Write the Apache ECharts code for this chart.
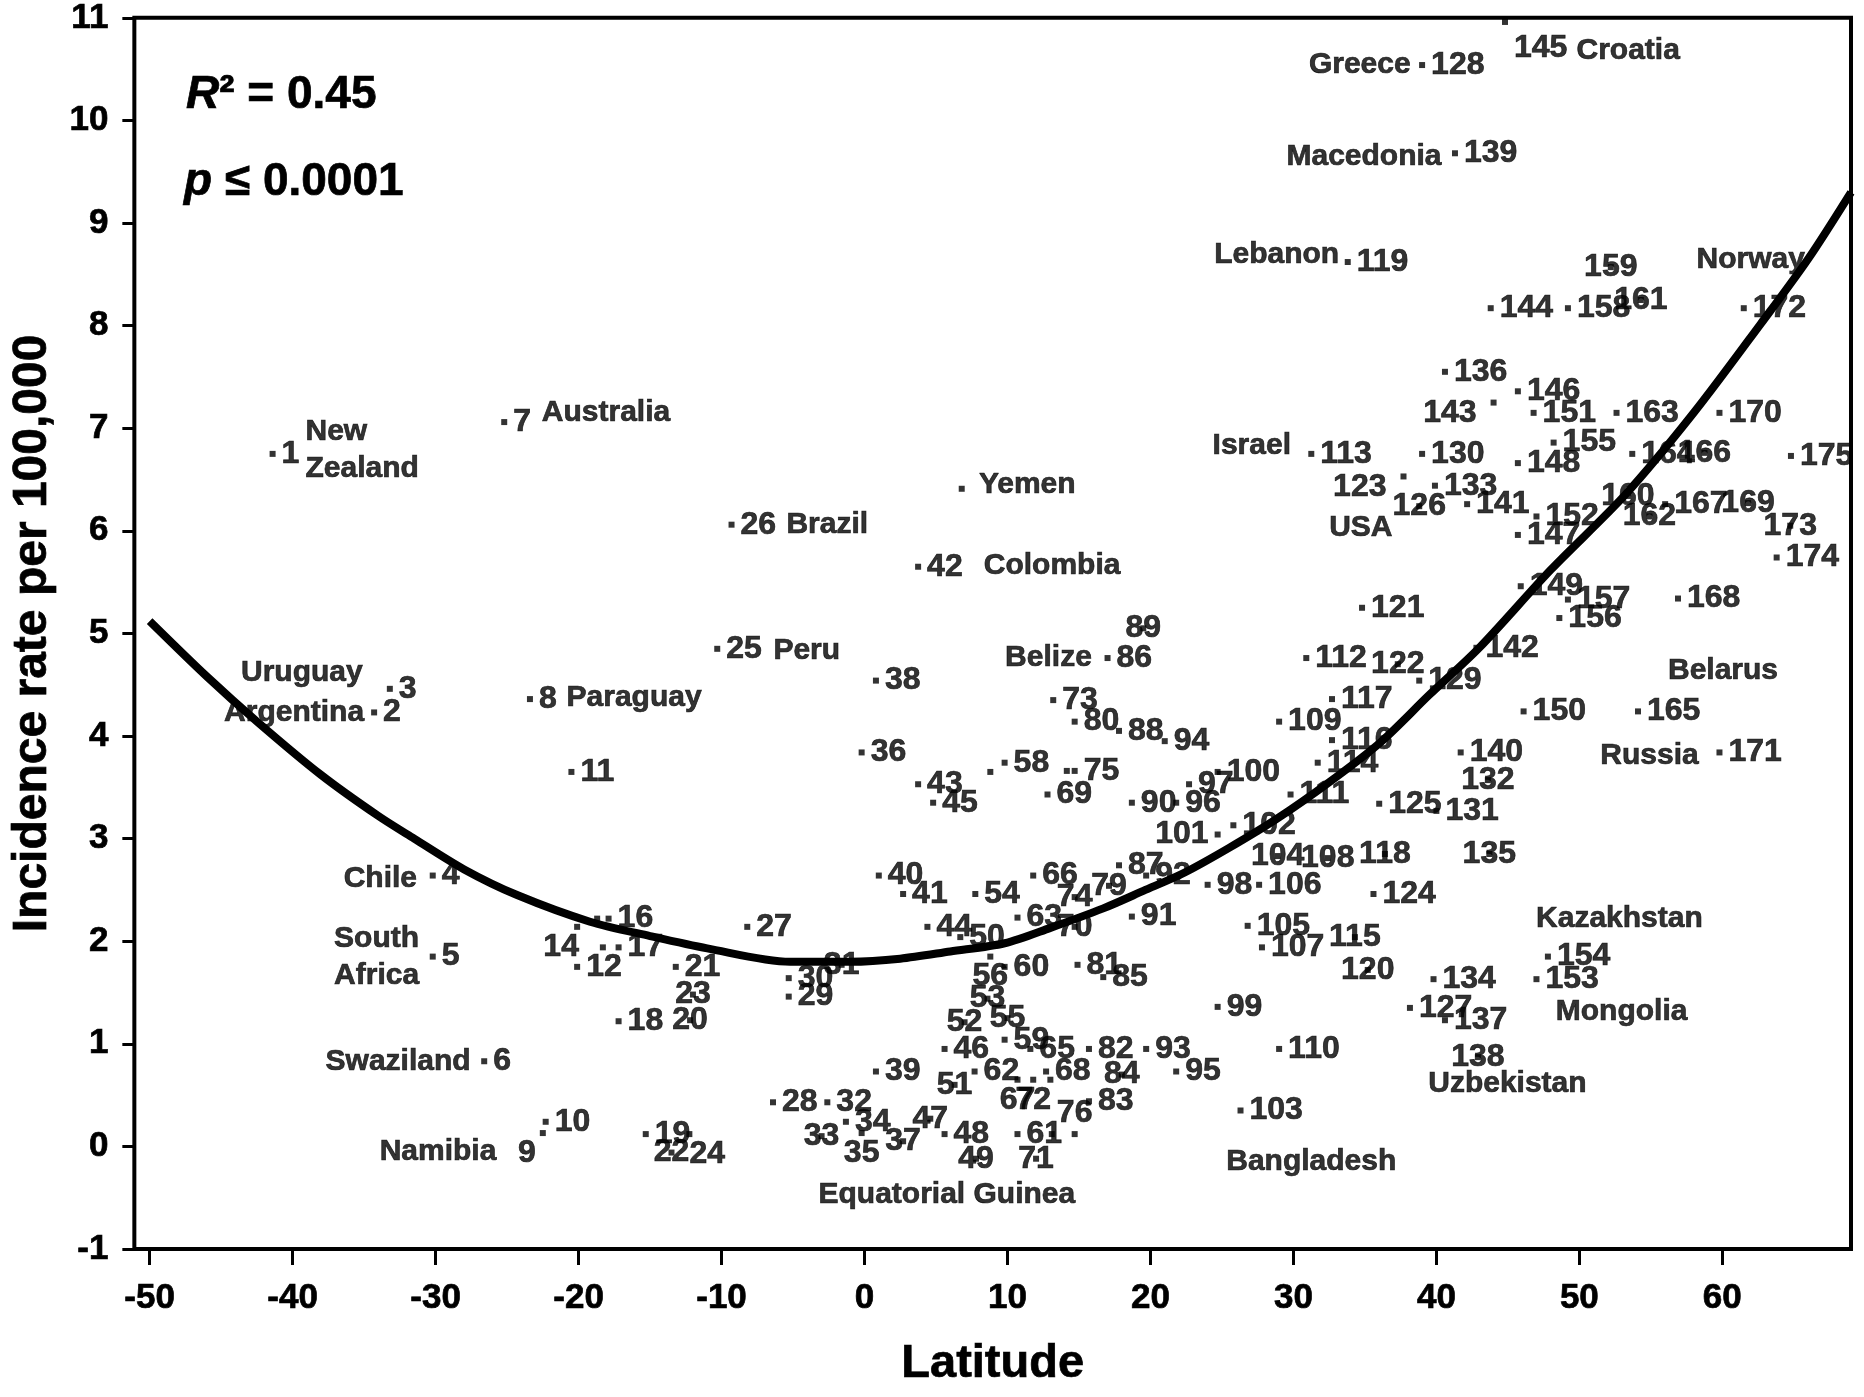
<!DOCTYPE html>
<html><head><meta charset="utf-8">
<script src="https://cdn.jsdelivr.net/npm/echarts@6/dist/echarts.min.js"></script>
<style>html,body{margin:0;padding:0;background:#fff}#c{width:1864px;height:1397px}</style>
</head><body><div id="c"></div><script>
// ---------- DATA ----------
// points numbered 1..175 (index + 1)
const latitude = [
-41.4,-34.3,-33.2,-30.2,-30.2,-26.6,-25.2,-23.4,-22.5,-22.3,
-20.5,-20.1,-18.7,-20.1,-18.3,-17.9,-17.2,-17.2,-15.3,-12.2,
-13.2,-13.5,-12.0,-12.25,-10.3,-9.3,-8.2,-6.4,-5.3,-5.3,
-1.6,-2.6,-3.0,-1.3,-0.2,-0.2,2.7,0.8,0.8,1.0,
2.7,3.75,3.75,4.4,4.8,5.6,4.6,5.6,7.8,6.7,
6.3,7.0,8.6,7.75,10.0,8.8,8.8,9.8,9.8,9.8,
10.7,7.7,10.7,13.0,11.6,11.8,10.7,12.7,12.8,14.7,
12.0,11.8,13.2,14.7,14.7,14.7,14.15,13.1,17.1,14.7,
14.9,15.7,15.7,18.0,16.7,17.0,17.8,17.8,19.5,18.7,
18.7,19.7,19.7,21.0,21.8,21.8,22.7,24.0,24.7,24.7,
24.7,25.8,26.3,28.9,26.8,27.6,27.8,32.4,29.0,29.0,
29.8,30.9,31.25,31.7,34.3,32.7,32.7,36.4,33.8,35.2,
34.8,37.3,37.7,35.6,36.0,38.8,38.15,39.0,38.8,39.0,
40.0,43.6,39.9,39.8,43.7,40.6,40.6,42.9,41.3,41.7,
42.15,42.8,44.0,43.8,44.8,45.7,45.7,45.7,45.9,46.1,
46.8,47.0,47.0,47.8,48.2,48.6,49.2,49.2,52.2,53.4,
54.3,54.9,52.6,53.7,54.1,58.75,56.0,56.9,61.8,59.8,
59.8,61.5,64.75,63.8,64.8
];
const incidence = [
6.75,4.23,4.46,2.64,1.85,0.83,7.06,4.36,0.13,0.24,
3.65,1.75,2.22,2.14,1.94,2.22,1.94,1.22,0.12,1.23,
1.75,-0.06,1.48,0.12,4.85,6.06,2.14,0.43,1.46,1.64,
1.77,0.43,0.10,0.24,0.13,3.84,0.05,4.54,0.73,2.64,
2.46,5.65,3.53,2.14,3.35,0.95,0.27,0.12,-0.12,2.04,
0.60,1.21,1.44,2.46,1.25,1.85,3.65,3.74,1.04,1.75,
0.12,0.73,2.23,0.65,0.95,2.64,0.65,0.73,3.43,2.14,
-0.12,0.65,4.35,2.43,3.66,0.12,3.66,0.12,2.54,4.14,
1.77,0.95,0.44,0.70,1.65,4.76,2.74,4.05,5.05,3.35,
2.24,2.64,0.95,3.95,0.73,3.35,3.53,2.55,1.36,3.65,
3.04,3.13,0.35,2.83,2.15,2.55,1.94,2.81,4.14,0.95,
3.43,4.76,6.75,3.74,2.04,3.96,4.36,2.85,8.62,1.72,
5.25,4.70,6.53,2.46,3.34,6.24,1.35,10.54,4.54,6.75,
3.27,3.57,6.44,1.63,2.85,7.55,1.23,0.87,9.68,3.84,
6.26,4.86,7.25,8.17,10.96,7.36,5.96,6.66,5.46,4.24,
7.15,6.14,1.63,1.85,6.86,5.15,5.33,8.17,8.57,6.34,
8.25,6.14,7.15,6.75,4.24,6.76,6.26,5.34,6.27,7.15,
3.84,8.17,6.05,5.74,6.73
];
// point shown without a number (Yemen)
const unnumberedLat = [6.8];
const unnumberedRate = [6.41];

const countryNames = ['New\nZealand','Australia','Uruguay','Argentina','Paraguay','Chile','South\nAfrica','Swaziland','Namibia',
  'Brazil','Peru','Yemen','Colombia','Belize','Equatorial Guinea','Bangladesh','Israel','USA','Lebanon','Greece',
  'Macedonia','Croatia','Norway','Belarus','Russia','Kazakhstan','Mongolia','Uzbekistan'];
const countryLat = [-39.1,-22.57,-35.1,-35.0,-20.84,-31.3,-37.1,-27.55,-25.75,
  -5.46,-6.37,8.0,8.34,15.9,5.76,31.25,29.83,32.5,33.2,38.2,
  40.36,49.8,58.2,56.2,58.35,46.97,48.35,39.43];
const countryRate = [6.79,7.15,4.62,4.23,4.37,2.61,1.84,0.825,-0.05,
  6.06,4.83,6.45,5.66,4.76,-0.47,-0.15,6.83,6.03,8.69,10.54,
  9.65,10.68,8.64,4.64,3.81,2.22,1.31,0.61];

// fitted curve
const curveLat  = [-50,-46,-42.4,-38,-34,-31.5,-28,-24.3,-19.2,-15,-11,-5.2,-1,2.5,6,9.8,13,16.7,19.5,22.4,25.5,28.8,32.5,36.1,39.5,43,48,53.2,58,62.7,66,69];
const curveRate = [5.12,4.58,4.13,3.62,3.22,3.0,2.70,2.45,2.19,2.05,1.93,1.80,1.80,1.83,1.90,1.98,2.13,2.32,2.49,2.67,2.91,3.19,3.55,3.94,4.40,4.86,5.62,6.35,7.15,8.02,8.65,9.3];

const xTickValues = [-50,-40,-30,-20,-10,0,10,20,30,40,50,60];
const statLines = ['R', '² = 0.45', 'p', ' ≤ 0.0001'];

// ---------- STYLE ----------
const FONT = '"Liberation Sans", Arial, sans-serif';
const HEAVY = {textBorderColor: '#000', textBorderWidth: 0.7};
const labelPlacement = {9:'bl',13:'n',14:'bl',15:'n',20:'c',22:'c',23:'c',24:'br',31:'c',33:'c',35:'b',37:'c',47:'c',49:'c',
  51:'c',52:'c',53:'c',55:'c',56:'b',57:'n',64:'n',67:'b',70:'c',71:'c',72:'b',74:'c',76:'t',77:'n',78:'n',79:'c',84:'c',89:'c',
  101:'l',104:'c',108:'c',115:'c',118:'c',120:'c',122:'c',123:'ld',126:'c',132:'c',135:'c',138:'c',143:'ld',145:'rd',
  159:'c',160:'c',161:'c',162:'c',166:'c',169:'c',173:'c'};
const LABEL_STYLES = {
  r:{position:'right',distance:6},
  l:{position:'left',distance:6},
  t:{position:'top',distance:2},
  b:{position:'bottom',distance:1},
  bl:{position:'bottom',distance:1,offset:[-16,0]},
  br:{position:'bottom',distance:1,offset:[18,0]},
  ld:{position:'left',distance:6,offset:[-8,11]},
  rd:{position:'right',distance:6,offset:[0,26]},
  c:{position:'inside'},
  n:{show:false}
};
const countryAlign = {'Uruguay':'r','Argentina':'r','Chile':'r','Swaziland':'r','Namibia':'r','Belize':'r',
  'Israel':'r','Lebanon':'r','Greece':'r','Macedonia':'r','Russia':'r','Equatorial Guinea':'c','Bangladesh':'c'};

const pointData = latitude.map((x, i) => {
  const mode = labelPlacement[i + 1] || 'r';
  return {value: [x, incidence[i]], name: String(i + 1),
    label: Object.assign({show: true, formatter: String(i + 1)}, LABEL_STYLES[mode])};
});
unnumberedLat.forEach((x, i) => pointData.push({value: [x, unnumberedRate[i]], label: {show: false}}));

const countryData = countryNames.map((n, i) => {
  const a = countryAlign[n] || 'l';
  const pos = a === 'r' ? 'left' : a === 'c' ? 'inside' : 'right';
  return {value: [countryLat[i], countryRate[i]], label: {show: true, formatter: n, position: pos, distance: 0, align: a === 'c' ? 'center' : (a === 'r' ? 'right' : 'left')}};
});

const chart = echarts.init(document.getElementById('c'), null, {renderer: 'canvas'});
chart.setOption({
  animation: false,
  backgroundColor: '#fff',
  grid: {left: 130, right: 13, top: 13, bottom: 148, show: true, borderColor: '#000', borderWidth: 4, backgroundColor: 'transparent'},
  xAxis: {
    type: 'value', min: -51.07, max: 69.0,
    axisLine: {show: false, onZero: false},
    splitLine: {show: false},
    axisTick: {show: true, length: 16, lineStyle: {color: '#000', width: 3}, customValues: xTickValues},
    axisLabel: Object.assign({color: '#000', fontSize: 35, fontWeight: 'bold', fontFamily: FONT, margin: 32, customValues: xTickValues}, HEAVY),
    name: 'Latitude', nameLocation: 'middle', nameGap: 92,
    nameTextStyle: Object.assign({color: '#000', fontSize: 47, fontWeight: 'bold', fontFamily: FONT}, HEAVY)
  },
  yAxis: {
    type: 'value', min: -1, max: 11, interval: 1,
    axisLine: {show: false, onZero: false},
    splitLine: {show: false},
    axisTick: {show: true, length: 12, lineStyle: {color: '#000', width: 3}},
    axisLabel: Object.assign({color: '#000', fontSize: 35, fontWeight: 'bold', fontFamily: FONT, margin: 26}, HEAVY),
    name: 'Incidence rate per 100,000', nameLocation: 'middle', nameGap: 78, nameRotate: 90,
    nameTextStyle: Object.assign({color: '#000', fontSize: 48, fontWeight: 'bold', fontFamily: FONT}, HEAVY)
  },
  series: [
    {
      type: 'scatter', z: 2, symbol: 'rect', symbolSize: 6,
      itemStyle: {color: '#000'},
      label: Object.assign({color: '#000', fontSize: 32, fontWeight: 'bold', fontFamily: FONT}, HEAVY),
      emphasis: {disabled: true},
      data: pointData
    },
    {
      type: 'scatter', z: 2, symbolSize: 0,
      label: Object.assign({color: '#000', fontSize: 30, fontWeight: 'bold', fontFamily: FONT, lineHeight: 37}, HEAVY),
      emphasis: {disabled: true},
      data: countryData
    },
    {
      type: 'line', z: 5, showSymbol: false, smooth: 0.3, clip: true,
      lineStyle: {color: '#000', width: 8},
      emphasis: {disabled: true},
      data: curveLat.map((x, i) => [x, curveRate[i]])
    }
  ],
  graphic: [
    {type: 'text', x: 186, y: 95, style: {text: '{i|' + statLines[0] + '}{n|' + statLines[1] + '}', align: 'left', verticalAlign: 'middle',
      rich: {i: {fontStyle: 'italic', fontWeight: 'bold', fontSize: 46, fontFamily: FONT, fill: '#000', stroke: '#000', lineWidth: 0.7},
             n: {fontWeight: 'bold', fontSize: 46, fontFamily: FONT, fill: '#000', stroke: '#000', lineWidth: 0.7}}}},
    {type: 'text', x: 184, y: 182, style: {text: '{i|' + statLines[2] + '}{n|' + statLines[3] + '}', align: 'left', verticalAlign: 'middle',
      rich: {i: {fontStyle: 'italic', fontWeight: 'bold', fontSize: 46, fontFamily: FONT, fill: '#000', stroke: '#000', lineWidth: 0.7},
             n: {fontWeight: 'bold', fontSize: 46, fontFamily: FONT, fill: '#000', stroke: '#000', lineWidth: 0.7}}}}
  ]
});
</script></body></html>
